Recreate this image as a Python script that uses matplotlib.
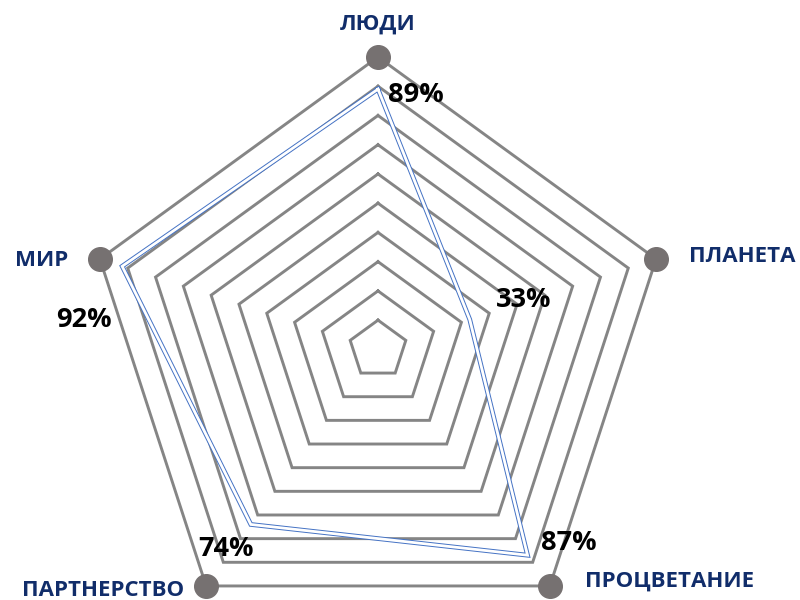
import numpy as np
import matplotlib
matplotlib.use("Agg")
import matplotlib.pyplot as plt

plt.rcParams['font.family'] = ['Open Sans', 'DejaVu Sans']

categories = ['ЛЮДИ', 'ПЛАНЕТА', 'ПРОЦВЕТАНИЕ', 'ПАРТНЕРСТВО', 'МИР']
values = [0.89, 0.33, 0.87, 0.74, 0.92]
value_labels = ['89%', '33%', '87%', '74%', '92%']
grid_levels = [0.1, 0.2, 0.3, 0.4, 0.5, 0.6, 0.7, 0.8, 0.9, 1.0]

W, H = 800, 600
fig = plt.figure(figsize=(8, 6), dpi=100)
fig.patch.set_facecolor('white')

cx, cy, R = 378, 349.4, 292.4
ax = fig.add_axes([(cx - R) / W, (H - cy - R) / H, 2 * R / W, 2 * R / H],
                  projection='polar')
ax.set_theta_offset(np.pi / 2)
ax.set_theta_direction(-1)
ax.set_ylim(0, 1)
ax.set_axis_off()

n = len(categories)
theta = np.arange(n) * 2 * np.pi / n
theta_c = np.append(theta, theta[0])

for lv in grid_levels:
    ax.plot(theta_c, [lv] * (n + 1), color='#858585', lw=2.1,
            solid_joinstyle='miter', clip_on=False, zorder=1)

ax.plot(theta, [grid_levels[-1]] * n, 'o', ms=17, color='#767171',
        clip_on=False, zorder=3)

vals_c = np.append(values, values[0])
ax.plot(theta_c, vals_c, color='#4472C4', lw=3.4, solid_joinstyle='miter',
        clip_on=False, zorder=4)
ax.plot(theta_c, vals_c, color='white', lw=2.0, solid_joinstyle='miter',
        clip_on=False, zorder=5)

navy = '#112D6A'
cat_pos = [(378, 24), (742, 257), (670, 581), (103, 590), (42, 260)]
for lab, (px, py) in zip(categories, cat_pos):
    fig.text(px / W, 1 - py / H, lab, ha='center', va='center',
             fontsize=16, fontweight='bold', color=navy)

val_pos = [(416, 95), (524, 300), (569, 543), (226, 549), (84, 320)]
for lab, (px, py) in zip(value_labels, val_pos):
    fig.text(px / W, 1 - py / H, lab, ha='center', va='center',
             fontsize=19.5, fontweight='bold', color='black', zorder=10)

fig.savefig('out.png', dpi=100)
